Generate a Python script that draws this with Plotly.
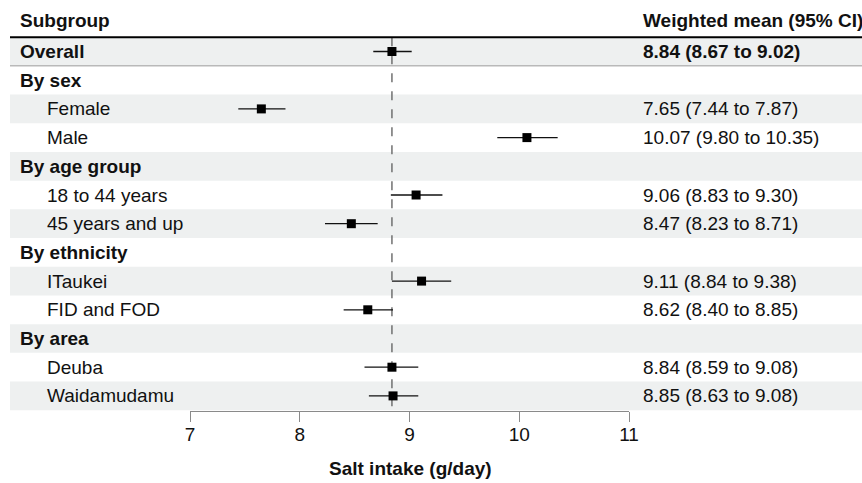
import plotly.graph_objects as go

W, H = 862, 483

# ---- data ----
row_labels = ["Overall", "By sex", "Female", "Male", "By age group", "18 to 44 years",
              "45 years and up", "By ethnicity", "ITaukei", "FID and FOD", "By area",
              "Deuba", "Waidamudamu"]
row_is_group = [True, True, False, False, True, False, False, True, False, False, True, False, False]
means = [8.84, None, 7.65, 10.07, None, 9.06, 8.47, None, 9.11, 8.62, None, 8.84, 8.85]
lows = [8.67, None, 7.44, 9.80, None, 8.83, 8.23, None, 8.84, 8.40, None, 8.59, 8.63]
highs = [9.02, None, 7.87, 10.35, None, 9.30, 8.71, None, 9.38, 8.85, None, 9.08, 9.08]
ci_text = ["8.84 (8.67 to 9.02)", "", "7.65 (7.44 to 7.87)", "10.07 (9.80 to 10.35)", "",
           "9.06 (8.83 to 9.30)", "8.47 (8.23 to 8.71)", "", "9.11 (8.84 to 9.38)",
           "8.62 (8.40 to 8.85)", "", "8.84 (8.59 to 9.08)", "8.85 (8.63 to 9.08)"]
overall_value = 8.84
x_ticks = [7, 8, 9, 10, 11]
header_left = "Subgroup"
header_right = "Weighted mean (95% CI)"
x_title = "Salt intake (g/day)"

FONT = "Liberation Sans, Arial, sans-serif"
TXT = "#111111"
SHADE = "#eef0f0"
FS = 19

# pixel geometry
row0 = 51.5
step = 28.7
axis_px = 411
y_top = (0 - row0) / step
y_bot = (axis_px - row0) / step

idx = [i for i, m in enumerate(means) if m is not None]
xs = [means[i] for i in idx]
ys = list(idx)
err_plus = [highs[i] - means[i] for i in idx]
err_minus = [means[i] - lows[i] for i in idx]

fig = go.Figure()

# reference line (overall)
fig.add_trace(go.Scatter(
    x=[overall_value, overall_value], y=[-0.5, y_bot], mode="lines",
    line=dict(color="#666666", width=1.4, dash="dash"), hoverinfo="skip", showlegend=False))

fig.add_trace(go.Scatter(
    x=xs, y=ys, mode="markers",
    marker=dict(symbol="square", size=9, color="black"),
    error_x=dict(type="data", symmetric=False, array=err_plus, arrayminus=err_minus,
                 color="#111111", thickness=1.3, width=0),
    showlegend=False))

shapes = []
for i in range(len(row_labels)):
    if i % 2 == 0:
        shapes.append(dict(type="rect", xref="paper", yref="y", x0=10 / W, x1=1,
                           y0=i - 0.5, y1=i + 0.5, fillcolor=SHADE, line=dict(width=0),
                           layer="below"))
# header line
shapes.append(dict(type="line", xref="paper", yref="y", x0=10 / W, x1=1, y0=-0.5, y1=-0.5,
                   line=dict(color="black", width=2)))
# line below overall
shapes.append(dict(type="line", xref="paper", yref="y", x0=10 / W, x1=1, y0=0.5, y1=0.5,
                   line=dict(color="#9a9a9a", width=1)))

ann = []
ann.append(dict(xref="paper", yref="y", x=18 / W, y=-1.08, text=f"<b>{header_left}</b>",
                showarrow=False, xanchor="left", yanchor="middle",
                font=dict(family=FONT, size=FS, color=TXT)))
ann.append(dict(xref="paper", yref="y", x=641 / W, y=-1.08, text=f"<b>{header_right}</b>",
                showarrow=False, xanchor="left", yanchor="middle",
                font=dict(family=FONT, size=FS, color=TXT)))
for i, lab in enumerate(row_labels):
    bold = row_is_group[i]
    ann.append(dict(xref="paper", yref="y", x=(18 if bold else 45) / W, y=i,
                    text=f"<b>{lab}</b>" if bold else lab, showarrow=False,
                    xanchor="left", yanchor="middle",
                    font=dict(family=FONT, size=FS, color=TXT)))
    if ci_text[i]:
        t = ci_text[i]
        ann.append(dict(xref="paper", yref="y", x=641 / W, y=i,
                        text=f"<b>{t}</b>" if i == 0 else t, showarrow=False,
                        xanchor="left", yanchor="middle",
                        font=dict(family=FONT, size=FS, color=TXT)))
ann.append(dict(xref="paper", yref="paper", x=410 / W, y=1 - 468 / H, text=f"<b>{x_title}</b>",
                showarrow=False, xanchor="center", yanchor="middle",
                font=dict(family=FONT, size=FS, color=TXT)))

fig.update_layout(
    width=W, height=H, margin=dict(l=0, r=0, t=0, b=0),
    plot_bgcolor="white", paper_bgcolor="white",
    shapes=shapes, annotations=ann,
    xaxis=dict(range=[7, 11], domain=[190 / W, 629 / W], tickvals=x_ticks,
               showline=True, linecolor="#8a8a8a", linewidth=1.2,
               ticks="outside", ticklen=10, tickcolor="#8a8a8a", tickwidth=1.2,
               ticklabelstandoff=-4,
               showgrid=False, zeroline=False, automargin=False,
               tickfont=dict(family=FONT, size=FS, color=TXT)),
    yaxis=dict(range=[y_bot, y_top], domain=[1 - axis_px / H, 1], visible=False,
               showgrid=False, zeroline=False, automargin=False),
)

fig.write_html("out.html", config={"displayModeBar": False},
               post_script="document.body.style.margin='0';document.body.style.overflow='hidden';")
